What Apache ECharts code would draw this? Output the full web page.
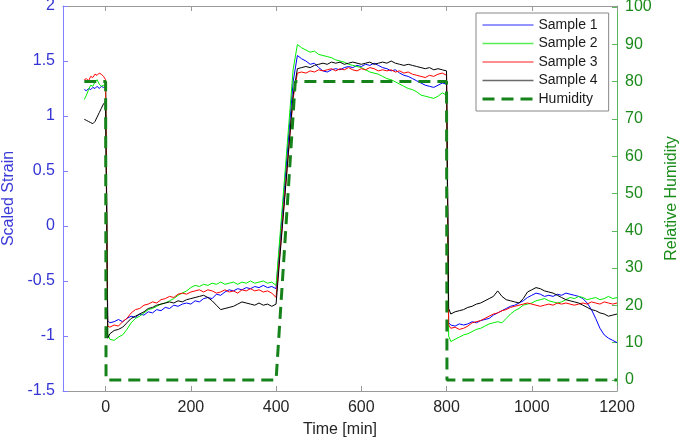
<!DOCTYPE html>
<html><head><meta charset="utf-8">
<script src="https://cdn.jsdelivr.net/npm/echarts@6/dist/echarts.min.js"></script>
<style>html,body{margin:0;padding:0;background:#fff}#c{width:685px;height:441px}</style>
</head><body><div id="c"></div>
<script>
const timeMin = [-50,-45,-40,-35,-30,-25,-20,-15,-10,-5,0,
5,10,20,30,40,50,60,70,80,90,100,110,120,130,140,150,160,170,180,190,200,210,220,230,240,250,260,270,280,290,300,310,320,330,340,350,360,370,380,390,400,
410,420,430,440,450,460,470,480,490,500,510,520,530,540,550,560,570,580,590,600,610,620,630,640,650,660,670,680,690,700,710,720,730,740,750,760,770,780,790,800,
805,810,820,830,840,850,860,870,880,890,900,910,920,930,940,950,960,970,980,990,1000,1010,1020,1030,1040,1050,1060,1070,1080,1090,1100,1110,1120,1130,1140,1150,1160,1170,1180,1190,1200];

const sample1 = [1.24,1.23,1.25,1.24,1.26,1.25,1.27,1.25,1.27,1.26,1.27,
-0.86,-0.88,-0.87,-0.85,-0.87,-0.84,-0.82,-0.83,-0.80,-0.81,
-0.78,-0.79,-0.76,-0.77,-0.74,-0.75,-0.72,-0.73,-0.71,-0.70,
-0.71,-0.68,-0.69,-0.66,-0.65,-0.66,-0.62,-0.63,-0.60,-0.58,
-0.59,-0.57,-0.58,-0.56,-0.57,-0.55,-0.56,-0.54,-0.56,-0.55,-0.57,
-0.10,0.37,0.84,1.31,
1.55,1.52,1.50,1.47,1.48,1.44,1.41,1.40,1.42,1.43,
1.42,1.44,1.45,1.44,1.46,1.45,1.47,1.46,1.48,1.46,
1.44,1.43,1.41,1.42,1.39,1.37,1.36,1.34,1.32,1.30,
1.28,1.27,1.26,1.28,1.30,1.29,
-0.88,-0.90,
-0.91,-0.89,-0.90,-0.89,-0.87,-0.88,-0.86,-0.85,
-0.84,-0.81,-0.79,-0.77,-0.75,-0.73,-0.72,-0.70,-0.68,-0.65,
-0.63,-0.61,-0.62,-0.64,-0.63,-0.64,-0.62,-0.63,-0.61,-0.62,
-0.63,-0.64,-0.66,-0.70,-0.76,-0.84,-0.93,-0.99,-1.02,-1.04,-1.06];

const sample2 = [1.15,1.19,1.24,1.28,1.27,1.31,1.33,1.29,1.27,1.28,1.26,
-0.98,-1.03,-1.04,-1.01,-0.99,-0.94,-0.88,-0.84,-0.82,-0.79,
-0.76,-0.75,-0.73,-0.71,-0.70,-0.68,-0.66,-0.63,-0.61,-0.59,
-0.56,-0.54,-0.55,-0.53,-0.54,-0.52,-0.53,-0.51,-0.53,-0.52,
-0.51,-0.53,-0.51,-0.52,-0.50,-0.52,-0.51,-0.50,-0.52,-0.51,-0.54,
-0.05,0.44,0.93,1.42,
1.65,1.62,1.60,1.58,1.59,1.56,1.55,1.54,1.53,1.51,
1.50,1.49,1.47,1.46,1.45,1.44,1.42,1.40,1.39,1.38,
1.36,1.34,1.33,1.31,1.29,1.27,1.25,1.24,1.22,1.19,
1.18,1.17,1.16,1.18,1.21,1.19,
-1.00,-1.05,
-1.03,-1.01,-0.99,-0.98,-0.96,-0.94,-0.93,-0.91,
-0.89,-0.88,-0.87,-0.88,-0.84,-0.80,-0.77,-0.75,-0.72,-0.71,
-0.70,-0.68,-0.67,-0.66,-0.68,-0.69,-0.70,-0.69,-0.67,-0.65,
-0.66,-0.64,-0.65,-0.67,-0.66,-0.65,-0.67,-0.66,-0.64,-0.66,-0.65];

const sample3 = [1.33,1.34,1.32,1.36,1.35,1.38,1.37,1.39,1.38,1.36,1.33,
-0.91,-0.92,-0.90,-0.91,-0.87,-0.84,-0.79,-0.76,-0.75,-0.72,
-0.71,-0.69,-0.70,-0.67,-0.66,-0.64,-0.65,-0.62,-0.61,-0.62,
-0.60,-0.59,-0.58,-0.60,-0.58,-0.59,-0.61,-0.60,-0.58,-0.60,
-0.59,-0.61,-0.58,-0.59,-0.57,-0.59,-0.58,-0.60,-0.59,-0.61,-0.65,
-0.20,0.26,0.71,1.16,
1.39,1.40,1.39,1.41,1.40,1.42,1.41,1.42,1.43,1.41,
1.43,1.42,1.44,1.42,1.41,1.43,1.42,1.44,1.43,1.41,
1.42,1.41,1.42,1.40,1.41,1.39,1.40,1.38,1.37,1.36,
1.35,1.37,1.36,1.38,1.39,1.37,
-0.90,-0.93,
-0.92,-0.94,-0.93,-0.91,-0.88,-0.87,-0.86,-0.84,
-0.82,-0.80,-0.79,-0.77,-0.76,-0.74,-0.73,-0.72,-0.71,-0.70,
-0.71,-0.72,-0.73,-0.72,-0.71,-0.72,-0.70,-0.71,-0.70,-0.71,
-0.72,-0.71,-0.70,-0.71,-0.69,-0.70,-0.71,-0.69,-0.70,-0.71,-0.70];

const sample4 = [0.97,0.96,0.95,0.94,0.93,0.95,0.99,1.03,1.07,1.11,1.13,
-1.02,-0.98,-0.95,-0.94,-0.92,-0.88,-0.84,-0.82,-0.80,-0.78,
-0.75,-0.74,-0.72,-0.71,-0.70,-0.69,-0.70,-0.68,-0.69,-0.67,
-0.66,-0.65,-0.64,-0.63,-0.65,-0.68,-0.72,-0.76,-0.75,-0.74,
-0.73,-0.71,-0.69,-0.70,-0.71,-0.72,-0.70,-0.72,-0.71,-0.73,-0.71,
-0.23,0.24,0.72,1.19,
1.43,1.44,1.45,1.44,1.46,1.47,1.48,1.47,1.49,1.48,
1.49,1.47,1.48,1.49,1.48,1.47,1.48,1.49,1.47,1.48,
1.49,1.48,1.50,1.48,1.47,1.46,1.47,1.46,1.45,1.44,
1.43,1.44,1.42,1.43,1.42,1.41,
-0.75,-0.80,
-0.78,-0.77,-0.76,-0.74,-0.73,-0.71,-0.70,-0.68,
-0.66,-0.64,-0.59,-0.64,-0.67,-0.68,-0.69,-0.70,-0.66,-0.60,
-0.58,-0.56,-0.57,-0.59,-0.60,-0.61,-0.63,-0.65,-0.67,-0.68,
-0.69,-0.70,-0.72,-0.74,-0.76,-0.77,-0.79,-0.80,-0.82,-0.81,-0.80];

const humidityTime = [-50, 0, 1, 400, 445, 800, 801, 1200];
const humidityValue = [80, 80, 0, 0, 80, 80, 0, 0];

const xTicks = [0, 200, 400, 600, 800, 1000, 1200];
const rhTicks = [0, 10, 20, 30, 40, 50, 60, 70, 80, 90, 100];

const seriesNames = ['Sample 1', 'Sample 2', 'Sample 3', 'Sample 4'];
const seriesColors = ['#0000ff', '#00ee00', '#ff0000', '#000000'];
const seriesValues = [sample1, sample2, sample3, sample4];

const FONT = 'Liberation Sans, Arial, sans-serif';
const chart = echarts.init(document.getElementById('c'), null, {renderer: 'canvas'});

const strainSeries = seriesNames.map((name, k) => ({
  name: name,
  type: 'line',
  xAxisIndex: 0,
  yAxisIndex: 0,
  symbol: 'none',
  z: 2 + k,
  lineStyle: {color: seriesColors[k], width: 1},
  itemStyle: {color: seriesColors[k]},
  data: timeMin.map((t, i) => [t, seriesValues[k][i]])
}));

const legendColors = ['#7070ff', '#55f055', '#ff6a6a', '#6a6a6a'];
const legendData = seriesNames.map((n, k) => ({
  name: n,
  itemStyle: {opacity: 0},
  lineStyle: {width: 1.5, color: legendColors[k]}
})).concat([{name: 'Humidity', itemStyle: {opacity: 0}, lineStyle: {width: 3, color: '#16821a', type: [12, 7]}}]);

chart.setOption({
  animation: false,
  backgroundColor: '#fff',
  textStyle: {fontFamily: FONT},
  grid: {left: 63, right: 68, top: 6, bottom: 50, containLabel: false, outerBoundsMode: 'none'},
  legend: {
    orient: 'vertical',
    left: 476, top: 13,
    padding: [5, 11, 5, 5],
    itemWidth: 51, itemHeight: 14, itemGap: 4.5,
    borderColor: '#888', borderWidth: 1, backgroundColor: '#fff',
    itemStyle: {opacity: 0},
    textStyle: {fontSize: 14, color: '#1a1a1a', fontFamily: FONT},
    data: legendData
  },
  xAxis: [{
    type: 'value', min: -100, max: 1200, position: 'bottom',
    name: 'Time [min]', nameLocation: 'middle', nameGap: 31,
    nameTextStyle: {fontSize: 16, color: '#262626', fontFamily: FONT},
    axisLine: {show: true, onZero: false, lineStyle: {color: '#999', width: 1}},
    axisTick: {show: true, inside: true, length: 5, customValues: xTicks, lineStyle: {color: '#999'}},
    axisLabel: {show: true, margin: 9, fontSize: 16, color: '#262626', fontFamily: FONT,
      customValues: xTicks, formatter: v => String(v)},
    splitLine: {show: false}
  }, {
    type: 'value', min: -100, max: 1200, position: 'top',
    axisLine: {show: true, onZero: false, lineStyle: {color: '#999', width: 1}},
    axisTick: {show: true, inside: true, length: 5, customValues: xTicks, lineStyle: {color: '#999'}},
    axisLabel: {show: false},
    splitLine: {show: false}
  }],
  yAxis: [{
    type: 'value', min: -1.5, max: 2, interval: 0.5, position: 'left',
    name: 'Scaled Strain', nameLocation: 'middle', nameGap: 43, nameRotate: 90,
    nameTextStyle: {fontSize: 16, color: '#3a3ad8', fontFamily: FONT},
    axisLine: {show: true, onZero: false, lineStyle: {color: '#8080ff', width: 1}},
    axisTick: {show: true, inside: true, length: 5, lineStyle: {color: '#8080ff'}},
    axisLabel: {margin: 8, fontSize: 16, color: '#3434d4', fontFamily: FONT},
    splitLine: {show: false}
  }, {
    type: 'value', min: -2.95, max: 100.25, position: 'right',
    name: 'Relative Humidity', nameLocation: 'middle', nameGap: 47, nameRotate: 90,
    nameTextStyle: {fontSize: 16, color: '#1a8c1a', fontFamily: FONT},
    axisLine: {show: true, onZero: false, lineStyle: {color: '#5cb85c', width: 1}},
    axisTick: {show: true, inside: true, length: 5, customValues: rhTicks, lineStyle: {color: '#5cb85c'}},
    axisLabel: {margin: 8, fontSize: 16, color: '#1b8a1b', fontFamily: FONT, customValues: rhTicks},
    splitLine: {show: false}
  }],
  series: strainSeries.concat([{
    name: 'Humidity',
    type: 'line',
    xAxisIndex: 0,
    yAxisIndex: 1,
    symbol: 'none',
    z: 10,
    lineStyle: {color: '#16821a', width: 3, type: [12, 7]},
    itemStyle: {color: '#16821a'},
    data: humidityTime.map((t, i) => [t, humidityValue[i]])
  }])
});
</script>
</body></html>
